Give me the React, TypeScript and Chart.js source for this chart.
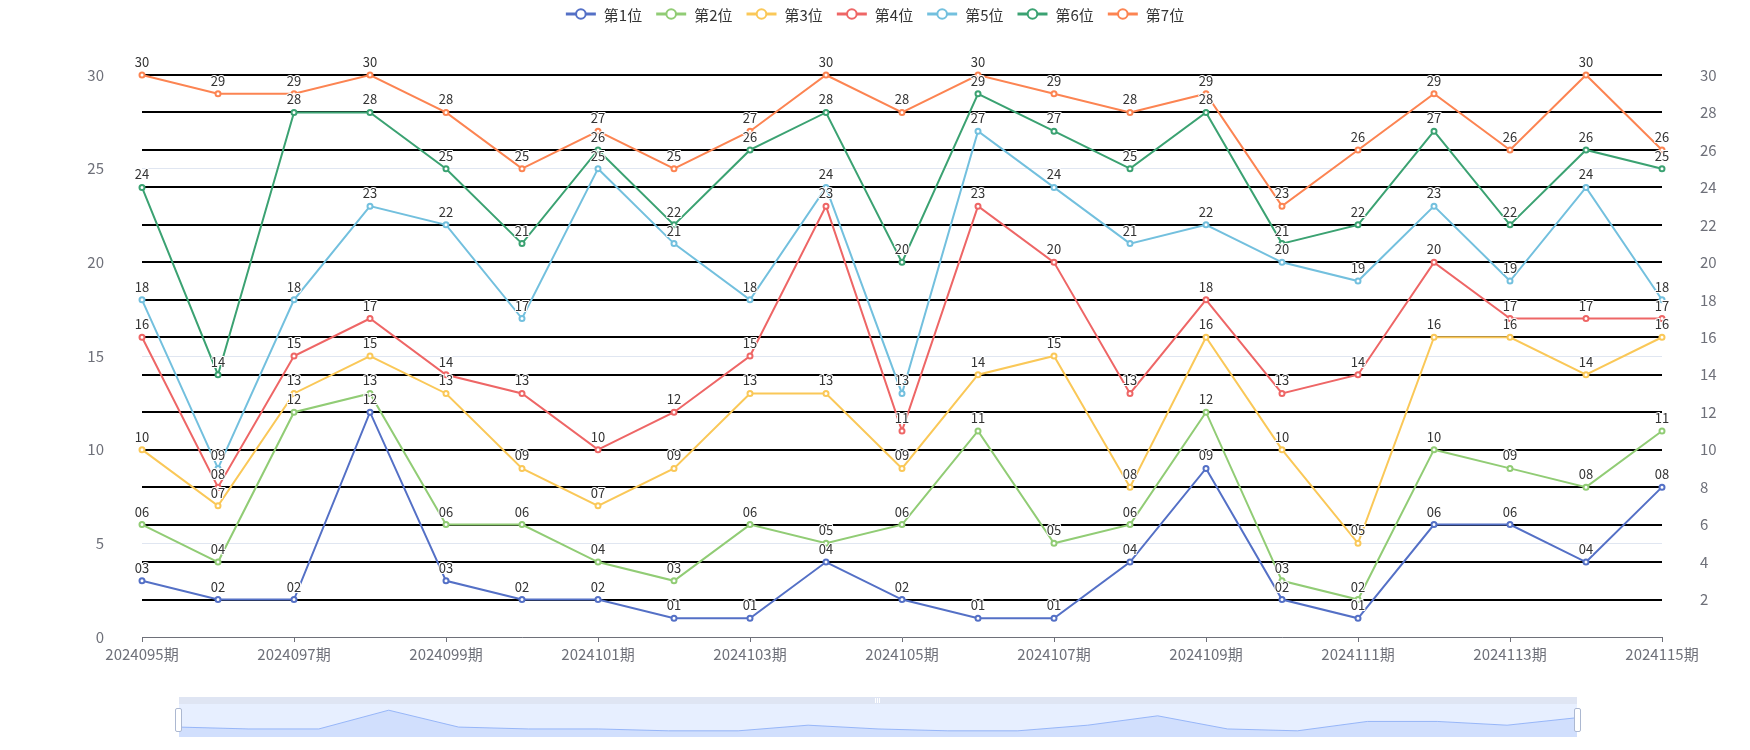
import React, { useEffect, useRef } from 'react';
import { Chart, registerables } from 'chart.js';

Chart.register(...registerables);

const FONT = '"Noto Sans CJK SC", "Noto Sans", sans-serif';

const categories = [
  '2024095期', '2024096期', '2024097期', '2024098期', '2024099期', '2024100期', '2024101期',
  '2024102期', '2024103期', '2024104期', '2024105期', '2024106期', '2024107期', '2024108期',
  '2024109期', '2024110期', '2024111期', '2024112期', '2024113期', '2024114期', '2024115期',
];
const seriesNames = ['第1位', '第2位', '第3位', '第4位', '第5位', '第6位', '第7位'];
const pos1 = [3, 2, 2, 12, 3, 2, 2, 1, 1, 4, 2, 1, 1, 4, 9, 2, 1, 6, 6, 4, 8];
const pos2 = [6, 4, 12, 13, 6, 6, 4, 3, 6, 5, 6, 11, 5, 6, 12, 3, 2, 10, 9, 8, 11];
const pos3 = [10, 7, 13, 15, 13, 9, 7, 9, 13, 13, 9, 14, 15, 8, 16, 10, 5, 16, 16, 14, 16];
const pos4 = [16, 8, 15, 17, 14, 13, 10, 12, 15, 23, 11, 23, 20, 13, 18, 13, 14, 20, 17, 17, 17];
const pos5 = [18, 9, 18, 23, 22, 17, 25, 21, 18, 24, 13, 27, 24, 21, 22, 20, 19, 23, 19, 24, 18];
const pos6 = [24, 14, 28, 28, 25, 21, 26, 22, 26, 28, 20, 29, 27, 25, 28, 21, 22, 27, 22, 26, 25];
const pos7 = [30, 29, 29, 30, 28, 25, 27, 25, 27, 30, 28, 30, 29, 28, 29, 23, 26, 29, 26, 30, 26];
const seriesValues = [pos1, pos2, pos3, pos4, pos5, pos6, pos7];
const seriesColors = ['#5470c6', '#91cc75', '#fac858', '#ee6666', '#73c0de', '#3ba272', '#fc8452'];

const AXIS_COLOR = '#6E7079';

const valueLabelPlugin = {
  id: 'valueLabels',
  afterDatasetsDraw(chart: any) {
    const ctx = chart.ctx;
    ctx.save();
    ctx.font = `13px ${FONT}`;
    ctx.textAlign = 'center';
    ctx.textBaseline = 'alphabetic';
    ctx.lineJoin = 'round';
    chart.data.datasets.forEach((ds: any, di: number) => {
      const meta = chart.getDatasetMeta(di);
      meta.data.forEach((pt: any, i: number) => {
        const txt = String(ds.data[i]).padStart(2, '0');
        ctx.lineWidth = 2;
        ctx.strokeStyle = '#fff';
        ctx.strokeText(txt, pt.x, pt.y - 8);
        ctx.fillStyle = '#333';
        ctx.fillText(txt, pt.x, pt.y - 8);
      });
    });
    ctx.restore();
  },
};

const legendPlugin = {
  id: 'lineLegend',
  afterDraw(chart: any) {
    const ctx = chart.ctx;
    const iconW = 30;
    const textGap = 8;
    const itemGap = 14;
    const cy = 14;
    ctx.save();
    ctx.font = `15px ${FONT}`;
    const items = chart.data.datasets.map((ds: any) => {
      const tw = ctx.measureText(ds.label).width;
      return { ds, tw, w: iconW + textGap + tw };
    });
    const total = items.reduce((a: number, it: any) => a + it.w, 0) + itemGap * (items.length - 1);
    let x = chart.width / 2 - total / 2;
    items.forEach((it: any) => {
      const color = it.ds.borderColor;
      ctx.strokeStyle = color;
      ctx.lineWidth = 3;
      ctx.beginPath();
      ctx.moveTo(x, cy);
      ctx.lineTo(x + iconW, cy);
      ctx.stroke();
      ctx.beginPath();
      ctx.arc(x + iconW / 2, cy, 4.8, 0, Math.PI * 2);
      ctx.fillStyle = '#fff';
      ctx.fill();
      ctx.lineWidth = 2;
      ctx.stroke();
      ctx.fillStyle = '#333';
      ctx.textAlign = 'left';
      ctx.textBaseline = 'middle';
      ctx.fillText(it.ds.label, x + iconW + textGap, cy + 1);
      x += it.w + itemGap;
    });
    ctx.restore();
  },
};

function MainChart() {
  const ref = useRef<HTMLCanvasElement | null>(null);
  useEffect(() => {
    if (!ref.current) return;
    const chart = new Chart(ref.current, {
      type: 'line',
      data: {
        labels: categories,
        datasets: seriesValues.map((vals, i) => ({
          label: seriesNames[i],
          data: vals,
          borderColor: seriesColors[i],
          backgroundColor: seriesColors[i],
          pointBackgroundColor: '#fff',
          pointBorderColor: seriesColors[i],
          pointRadius: 2.5,
          pointBorderWidth: 2,
          borderWidth: 2,
          tension: 0,
          yAxisID: 'y',
          order: seriesValues.length - 1 - i,
          clip: false as any,
        })),
      },
      options: {
        responsive: false,
        animation: false,
        devicePixelRatio: 1,
        layout: { padding: { top: 75, left: 0, right: 0, bottom: 0 } },
        plugins: {
          legend: { display: false },
          tooltip: { enabled: false },
          title: { display: false },
        },
        scales: {
          x: {
            type: 'category',
            offset: false,
            grid: {
              drawOnChartArea: false,
              drawTicks: true,
              tickLength: 5,
              lineWidth: 1,
              color: (c: any) => (c.index % 2 === 0 ? AXIS_COLOR : 'rgba(0,0,0,0)'),
            },
            border: { display: true, color: AXIS_COLOR, width: 1 },
            ticks: {
              autoSkip: false,
              maxRotation: 0,
              minRotation: 0,
              color: AXIS_COLOR,
              font: { size: 15, family: FONT },
              padding: 3,
              callback: function (this: any, v: any, i: number) {
                return i % 2 === 0 ? this.getLabelForValue(v) : '';
              },
            },
            afterFit: (s: any) => {
              s.height = 113;
            },
          },
          y: {
            position: 'left',
            min: 0,
            max: 30,
            ticks: { stepSize: 5, color: AXIS_COLOR, font: { size: 15, family: FONT }, padding: 38 },
            grid: { color: '#E0E6F1', lineWidth: 1, drawTicks: false },
            border: { display: false },
            afterFit: (s: any) => {
              s.width = 142;
            },
          },
          y1: {
            position: 'right',
            min: 0,
            max: 30,
            ticks: {
              stepSize: 2,
              color: AXIS_COLOR,
              font: { size: 15, family: FONT },
              padding: 38,
              callback: (v: any) => (v === 0 ? '' : String(v)),
            },
            grid: {
              color: (c: any) => (c.tick && c.tick.value === 0 ? 'rgba(0,0,0,0)' : '#000'),
              lineWidth: 2,
              drawTicks: false,
            },
            border: { display: false },
            afterFit: (s: any) => {
              s.width = 88;
            },
          },
        },
      } as any,
      plugins: [valueLabelPlugin, legendPlugin],
    });
    return () => chart.destroy();
  }, []);
  return <canvas ref={ref} width={1750} height={750} style={{ display: 'block' }} />;
}

function SliderShadow() {
  const ref = useRef<HTMLCanvasElement | null>(null);
  useEffect(() => {
    if (!ref.current) return;
    const lo = Math.min(...pos1);
    const hi = Math.max(...pos1);
    const pad = (hi - lo) * 0.3;
    const chart = new Chart(ref.current, {
      type: 'line',
      data: {
        labels: categories,
        datasets: [
          {
            data: pos1,
            fill: 'start',
            borderColor: 'rgba(143,176,247,0.9)',
            borderWidth: 1,
            backgroundColor: 'rgba(143,176,247,0.25)',
            pointRadius: 0,
            tension: 0,
          },
        ],
      },
      options: {
        responsive: false,
        animation: false,
        devicePixelRatio: 1,
        layout: { padding: 0 },
        plugins: { legend: { display: false }, tooltip: { enabled: false } },
        scales: {
          x: { display: false, offset: false },
          y: { display: false, min: lo - pad, max: hi + pad },
        },
      } as any,
    });
    return () => chart.destroy();
  }, []);
  return (
    <canvas
      ref={ref}
      width={1398}
      height={33}
      style={{ position: 'absolute', left: 0, top: 0, display: 'block' }}
    />
  );
}

function Slider() {
  const handleStyle: React.CSSProperties = {
    position: 'absolute',
    top: 11,
    width: 7,
    height: 24,
    background: '#fff',
    border: '1px solid #ACB8D1',
    borderRadius: 2,
    boxSizing: 'border-box',
  };
  return (
    <div style={{ position: 'absolute', left: 179, top: 697, width: 1398, height: 40 }}>
      <div
        style={{
          position: 'absolute',
          left: 0,
          top: 0,
          width: 1398,
          height: 7,
          background: '#dfe5f3',
        }}
      >
        <div
          style={{
            position: 'absolute',
            left: 696,
            top: 1,
            width: 5,
            height: 5,
            borderLeft: '1px solid #fff',
            borderRight: '1px solid #fff',
            boxSizing: 'border-box',
          }}
        >
          <div style={{ position: 'absolute', left: 1, top: 0, width: 1, height: 5, background: '#fff' }} />
        </div>
      </div>
      <div
        style={{
          position: 'absolute',
          left: 0,
          top: 7,
          width: 1398,
          height: 33,
          background: 'rgba(135,175,254,0.2)',
          overflow: 'hidden',
        }}
      >
        <SliderShadow />
      </div>
      <div style={{ ...handleStyle, left: -4 }} />
      <div style={{ ...handleStyle, left: 1398 - 3 }} />
    </div>
  );
}

export default function App() {
  return (
    <div
      style={{
        position: 'fixed',
        left: 0,
        top: 0,
        width: 1750,
        height: 750,
        background: '#fff',
        overflow: 'hidden',
      }}
    >
      <MainChart />
      <Slider />
    </div>
  );
}
